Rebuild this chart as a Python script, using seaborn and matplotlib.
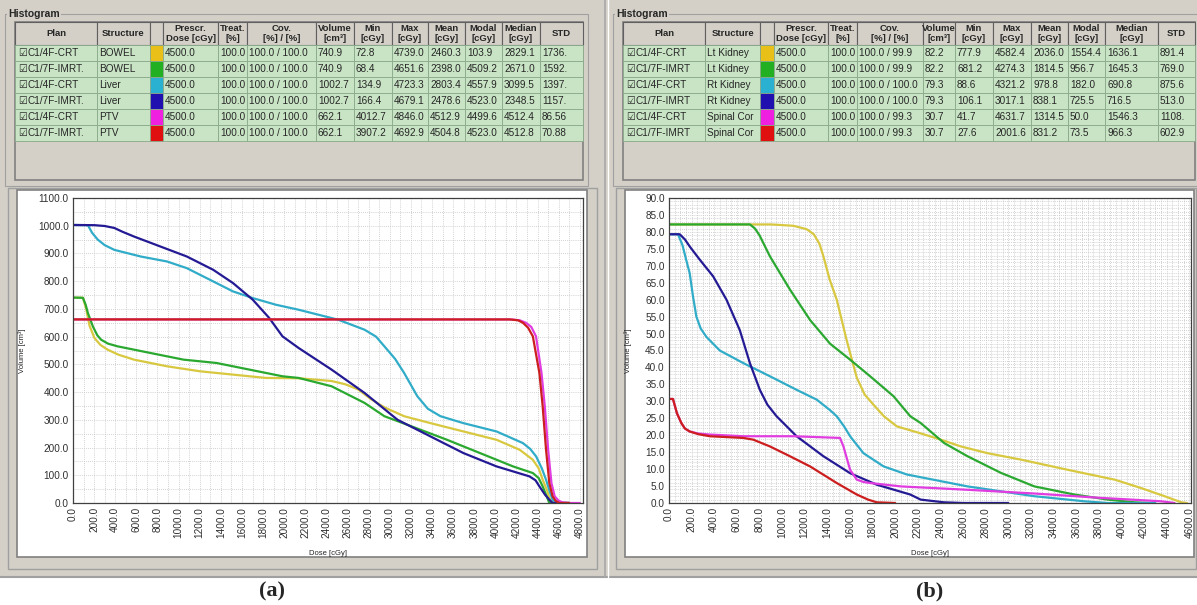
import pandas as pd
import seaborn as sns
import matplotlib.pyplot as plt
from matplotlib.patches import Rectangle
from matplotlib.ticker import MultipleLocator, FormatStrFormatter

# ---- table (a) ----
plans_a = ["C1/4F-CRT", "C1/7F-IMRT.", "C1/4F-CRT", "C1/7F-IMRT.", "C1/4F-CRT", "C1/7F-IMRT."]
structs_a = ["BOWEL", "BOWEL", "Liver", "Liver", "PTV", "PTV"]
presc_a = ["4500.0"] * 6
treat_a = ["100.0"] * 6
cov_a = ["100.0 / 100.0"] * 6
volume_a = ["740.9", "740.9", "1002.7", "1002.7", "662.1", "662.1"]
min_a = ["72.8", "68.4", "134.9", "166.4", "4012.7", "3907.2"]
max_a = ["4739.0", "4651.6", "4723.3", "4679.1", "4846.0", "4692.9"]
mean_a = ["2460.3", "2398.0", "2803.4", "2478.6", "4512.9", "4504.8"]
modal_a = ["103.9", "4509.2", "4557.9", "4523.0", "4499.6", "4523.0"]
median_a = ["2829.1", "2671.0", "3099.5", "2348.5", "4512.4", "4512.8"]
std_a = ["1736.", "1592.", "1397.", "1157.", "86.56", "70.88"]

# ---- table (b) ----
plans_b = ["C1/4F-CRT", "C1/7F-IMRT", "C1/4F-CRT", "C1/7F-IMRT", "C1/4F-CRT", "C1/7F-IMRT"]
structs_b = ["Lt Kidney", "Lt Kidney", "Rt Kidney", "Rt Kidney", "Spinal Cor", "Spinal Cor"]
presc_b = ["4500.0"] * 6
treat_b = ["100.0"] * 6
cov_b = ["100.0 / 99.9", "100.0 / 99.9", "100.0 / 100.0", "100.0 / 100.0", "100.0 / 99.3", "100.0 / 99.3"]
volume_b = ["82.2", "82.2", "79.3", "79.3", "30.7", "30.7"]
min_b = ["777.9", "681.2", "88.6", "106.1", "41.7", "27.6"]
max_b = ["4582.4", "4274.3", "4321.2", "3017.1", "4631.7", "2001.6"]
mean_b = ["2036.0", "1814.5", "978.8", "838.1", "1314.5", "831.2"]
modal_b = ["1554.4", "956.7", "182.0", "725.5", "50.0", "73.5"]
median_b = ["1636.1", "1645.3", "690.8", "716.5", "1546.3", "966.3"]
std_b = ["891.4", "769.0", "875.6", "513.0", "1108.", "602.9"]

headers = ["Plan", "Structure", "", "Prescr.\nDose [cGy]", "Treat.\n[%]", "Cov.\n[%] / [%]",
           "Volume\n[cm³]", "Min\n[cGy]", "Max\n[cGy]", "Mean\n[cGy]", "Modal\n[cGy]",
           "Median\n[cGy]", "STD"]

swatch_colors = ["#e8c018", "#22b022", "#2ab0d0", "#2010b0", "#f020e0", "#e01010"]
line_colors = ["#d8c840", "#2aa830", "#30acc8", "#241a94", "#e03ce0", "#cc1e1e"]

# ---- DVH curves (a): dose [cGy], volume [cm3] ----
bowel4_dose = [0, 94, 125, 156, 203, 260, 328, 430, 578, 891, 1203, 1516, 1828, 2137, 2449, 2580, 2699, 2820, 2949, 3136, 3386, 3698, 4011, 4230, 4355, 4410, 4448, 4490, 4511, 4542, 4700]
bowel4_vol = [740.9, 740, 700, 640, 595, 570, 553, 535, 517, 493, 475, 463, 451, 450, 440, 428, 410, 375, 345, 313, 288, 258, 228, 192, 156, 125, 84, 45, 18, 0, 0]
bowel7_dose = [0, 94, 120, 141, 188, 230, 266, 330, 422, 734, 1047, 1359, 1672, 1984, 2137, 2449, 2761, 2949, 3167, 3542, 3855, 4167, 4355, 4410, 4448, 4485, 4511, 4700]
bowel7_vol = [740.9, 740, 715, 685, 637, 605, 589, 575, 565, 541, 517, 505, 481, 457, 451, 421, 361, 313, 282, 228, 180, 132, 108, 90, 60, 25, 0, 0]
liver4_dose = [0, 141, 180, 234, 300, 391, 641, 891, 1078, 1266, 1516, 1703, 1922, 2137, 2512, 2761, 2870, 2949, 3050, 3136, 3261, 3360, 3480, 3698, 4011, 4261, 4330, 4386, 4440, 4480, 4520, 4542, 4573, 4700]
liver4_vol = [1002.7, 1002, 975, 950, 930, 913, 889, 871, 847, 811, 763, 739, 715, 697, 661, 625, 600, 565, 520, 469, 385, 340, 313, 288, 258, 216, 195, 168, 125, 84, 35, 12, 0, 0]
liver7_dose = [0, 203, 300, 391, 470, 578, 828, 1078, 1328, 1516, 1703, 1859, 1984, 2137, 2449, 2761, 3074, 3386, 3698, 4011, 4323, 4380, 4417, 4470, 4511, 4542, 4700]
liver7_vol = [1002.7, 1002, 999, 992, 978, 961, 925, 889, 841, 793, 733, 667, 601, 559, 481, 397, 300, 240, 180, 132, 96, 82, 60, 30, 12, 0, 0]
ptv4_dose = [0, 4150, 4230, 4290, 4340, 4385, 4437, 4468, 4500, 4531, 4562, 4600, 4640, 4700, 4800]
ptv4_vol = [662.1, 662, 659, 650, 635, 601, 469, 349, 192, 72, 24, 8, 2, 0, 0]
ptv7_dose = [0, 4136, 4215, 4261, 4310, 4355, 4417, 4448, 4480, 4511, 4542, 4570, 4605, 4700]
ptv7_vol = [662.1, 662, 659, 650, 632, 601, 469, 349, 192, 72, 24, 8, 0, 0]

# ---- DVH curves (b) ----
lk4_dose = [0, 900, 1100, 1217, 1280, 1330, 1365, 1420, 1483, 1571, 1660, 1730, 1808, 1900, 2015, 2200, 2402, 2580, 2816, 3112, 3525, 3939, 4175, 4382, 4530, 4580]
lk4_vol = [82.2, 82.2, 81.8, 80.8, 79.3, 76.5, 72.8, 66, 60, 48, 37, 32, 29, 25.6, 22.6, 20.8, 18.7, 16.7, 14.7, 12.8, 9.8, 6.9, 4.4, 2.0, 0.2, 0]
lk7_dose = [0, 715, 760, 800, 892, 1069, 1247, 1424, 1601, 1778, 1985, 2133, 2225, 2432, 2639, 2934, 3230, 3584, 3880, 4116, 4250]
lk7_vol = [82.2, 82.2, 81, 79, 72.8, 63, 54, 47, 42.3, 37.4, 31.5, 25.6, 23.6, 17.7, 13.8, 8.9, 4.9, 2.5, 1.0, 0.2, 0]
rk4_dose = [0, 80, 120, 150, 183, 212, 242, 280, 331, 449, 656, 892, 1128, 1306, 1420, 1483, 1550, 1601, 1719, 1897, 2104, 2639, 3230, 3673, 3880, 4300]
rk4_vol = [79.3, 79.3, 76, 72, 67.8, 61, 55, 51.5, 49, 45, 41.3, 37.4, 33.4, 30.5, 27.5, 25.6, 22.5, 19.7, 14.7, 10.8, 8.4, 4.9, 2.0, 0.5, 0, 0]
rk7_dose = [0, 95, 140, 183, 272, 390, 508, 626, 715, 803, 870, 951, 1128, 1365, 1601, 1837, 2133, 2225, 2432, 2600, 3000]
rk7_vol = [79.3, 79.3, 77.8, 75.7, 71.8, 66.9, 60, 51, 41.3, 33.4, 29, 25.6, 19.7, 13.8, 8.8, 5.4, 2.5, 1.0, 0.2, 0, 0]
sc4_dose = [0, 35, 70, 109, 140, 183, 260, 360, 656, 1099, 1512, 1542, 1601, 1660, 1720, 1778, 2048, 2639, 3230, 3821, 4352, 4470]
sc4_vol = [30.7, 30.7, 26.5, 23.6, 22, 21.1, 20.5, 20.2, 19.7, 19.7, 19.2, 16.7, 9.8, 6.9, 6.2, 5.9, 4.9, 3.9, 2.8, 1.5, 0.5, 0]
sc7_dose = [0, 35, 70, 109, 140, 183, 260, 360, 656, 744, 892, 1069, 1247, 1483, 1660, 1760, 1837, 2000]
sc7_vol = [30.7, 30.7, 26.5, 23.6, 22, 21.1, 20.3, 19.7, 19.2, 18.7, 16.7, 13.8, 10.8, 5.9, 2.5, 1.0, 0.2, 0]

W, H = 1197, 605
sns.set_style("white")
plt.rcParams["font.family"] = ["Liberation Sans", "DejaVu Sans"]

fig = plt.figure(figsize=(W / 100, H / 100), dpi=100)
fig.patch.set_facecolor("white")
bg = fig.add_axes([0, 0, 1, 1])
bg.set_xlim(0, W)
bg.set_ylim(H, 0)
bg.axis("off")

GRAY = "#d4d0c8"
DARK = "#808080"

# window background
bg.add_patch(Rectangle((0, 0), W, 578, facecolor=GRAY, edgecolor="none"))
bg.plot([0, W], [577, 577], color="#a0a0a0", lw=1.5)
bg.plot([605, 605], [0, 577], color="#a8a8a8", lw=1.2)
bg.plot([608, 608], [0, 577], color="white", lw=1.0)


def rect(x0, y0, x1, y1):
    return [x0 / W, 1 - y1 / H, (x1 - x0) / W, (y1 - y0) / H]


def draw_table(x0, x1, edges, cols):
    # groupbox
    bg.add_patch(Rectangle((x0 - 10, 14), x1 - x0 + 15, 172, facecolor="none", edgecolor="#a0a0a0", lw=0.8))
    bg.text(x0 - 7, 14, "Histogram", fontsize=7.5, fontweight="bold", va="center", ha="left",
            bbox=dict(facecolor=GRAY, edgecolor="none", pad=1))
    bg.add_patch(Rectangle((x0, 22), x1 - x0, 158, facecolor=GRAY, edgecolor=DARK, lw=1.2))
    top, hh, rh = 22, 23, 16
    for j, h in enumerate(headers):
        bg.add_patch(Rectangle((edges[j], top), edges[j + 1] - edges[j], hh,
                               facecolor=GRAY, edgecolor="#606060", lw=0.8))
        bg.text((edges[j] + edges[j + 1]) / 2, top + hh / 2, h, fontsize=6.8, fontweight="bold",
                ha="center", va="center", linespacing=1.05)
    for i in range(6):
        y = top + hh + i * rh
        for j in range(len(headers)):
            face = swatch_colors[i] if j == 2 else "#c8e4c4"
            bg.add_patch(Rectangle((edges[j], y), edges[j + 1] - edges[j], rh,
                                   facecolor=face, edgecolor="#8aa88a", lw=0.6))
        bg.text(edges[0] + 3, y + rh / 2, "☑", fontsize=7, family="DejaVu Sans", ha="left", va="center")
        texts = [c[i] for c in cols]
        k = 0
        for j in range(len(headers)):
            if j == 2:
                continue
            pad = 13 if j == 0 else 2
            bg.text(edges[j] + pad, y + rh / 2 + 0.5, texts[k], fontsize=7.2, ha="left", va="center",
                    clip_on=True)
            k += 1


edges_a = [15, 97, 150, 163, 218, 247, 316, 354, 392, 428, 465, 502, 540, 583]
edges_b = [623, 705, 760, 774, 828, 857, 923, 955, 993, 1031, 1068, 1105, 1158, 1195]
draw_table(15, 583, edges_a, [plans_a, structs_a, presc_a, treat_a, cov_a, volume_a, min_a, max_a,
                              mean_a, modal_a, median_a, std_a])
draw_table(623, 1195, edges_b, [plans_b, structs_b, presc_b, treat_b, cov_b, volume_b, min_b, max_b,
                                mean_b, modal_b, median_b, std_b])

# plot panels
for (px0, px1) in [(8, 597), (616, 1196)]:
    bg.add_patch(Rectangle((px0, 188), px1 - px0, 381, facecolor=GRAY, edgecolor="#a0a0a0", lw=1.0))
bg.add_patch(Rectangle((17, 190), 570, 367, facecolor="white", edgecolor=DARK, lw=1.2))
bg.add_patch(Rectangle((625, 190), 569, 367, facecolor="white", edgecolor=DARK, lw=1.2))

bg.text(272, 591, "(a)", fontsize=16, fontweight="bold", family="Liberation Serif", ha="center", va="center")
bg.text(930, 591, "(b)", fontsize=16, fontweight="bold", family="Liberation Serif", ha="center", va="center")


def long_frame(curves, plans, structs):
    frames = []
    for i, (d, v) in enumerate(curves):
        frames.append(pd.DataFrame({"Dose": d, "Volume": v, "curve": f"{plans[i]} {structs[i]}"}))
    return pd.concat(frames, ignore_index=True)


df_a = long_frame([(bowel4_dose, bowel4_vol), (bowel7_dose, bowel7_vol), (liver4_dose, liver4_vol),
                   (liver7_dose, liver7_vol), (ptv4_dose, ptv4_vol), (ptv7_dose, ptv7_vol)],
                  plans_a, structs_a)
df_b = long_frame([(lk4_dose, lk4_vol), (lk7_dose, lk7_vol), (rk4_dose, rk4_vol),
                   (rk7_dose, rk7_vol), (sc4_dose, sc4_vol), (sc7_dose, sc7_vol)],
                  plans_b, structs_b)


def dvh_axes(box, df, labels, xmax, ymax, ystep, xminor, yminor, ylab_x):
    ax = fig.add_axes(rect(*box))
    ax.set_facecolor("white")
    pal = dict(zip(labels, line_colors))
    sns.lineplot(data=df, x="Dose", y="Volume", hue="curve", palette=pal, sort=False,
                 estimator=None, lw=1.6, legend=False, ax=ax)
    for ln in ax.lines:
        ln.set_solid_joinstyle("round")
    ax.set_xlim(0, xmax)
    ax.set_ylim(0, ymax)
    ax.xaxis.set_major_locator(MultipleLocator(200))
    ax.yaxis.set_major_locator(MultipleLocator(ystep))
    ax.xaxis.set_minor_locator(MultipleLocator(xminor))
    ax.yaxis.set_minor_locator(MultipleLocator(yminor))
    ax.xaxis.set_major_formatter(FormatStrFormatter("%.1f"))
    ax.yaxis.set_major_formatter(FormatStrFormatter("%.1f"))
    ax.grid(True, which="both", color="#c4c4c4", ls=(0, (1, 1.5)), lw=0.6)
    ax.tick_params(axis="both", which="major", labelsize=7.2, length=2, width=0.6, colors="#303030", pad=1)
    ax.tick_params(axis="both", which="minor", length=0)
    ax.tick_params(axis="x", labelrotation=90)
    for s in ax.spines.values():
        s.set_color("#404040")
        s.set_linewidth(0.9)
    ax.set_xlabel("Dose [cGy]", fontsize=5.5)
    ax.set_ylabel("Volume [cm³]", fontsize=5.5)
    ax.xaxis.set_label_coords(0.5, -0.155)
    ax.yaxis.set_label_coords(ylab_x, 0.5)
    return ax


labels_a = [f"{p} {s}" for p, s in zip(plans_a, structs_a)]
labels_b = [f"{p} {s}" for p, s in zip(plans_b, structs_b)]
dvh_axes((73, 198, 583, 503), df_a, labels_a, 4830, 1100, 100, 100, 50, -0.092)
dvh_axes((669, 198, 1191, 503), df_b, labels_b, 4615, 90, 5, 50, 1, -0.071)

fig.savefig("out.png", dpi=100, facecolor=fig.get_facecolor())
